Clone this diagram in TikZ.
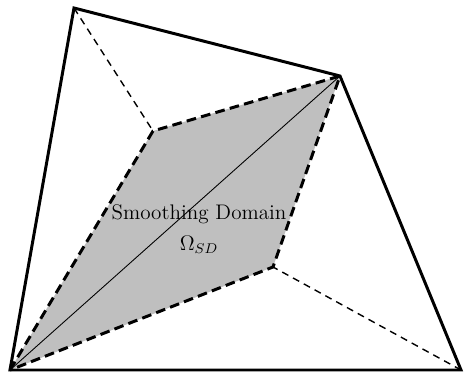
\documentclass[tikz,border=0pt]{standalone}
\usepackage{amsmath}
\usepackage{tikz}
\begin{document}
\begin{tikzpicture}[
          edge/.style={line width=1.7pt, line join=miter},
          sdedge/.style={line width=1.7pt, dash pattern=on 5.5pt off 3pt},
          link/.style={line width=0.8pt, dash pattern=on 4pt off 3pt},
          diag/.style={line width=0.5pt}
        ]
        \useasboundingbox (0,0) rectangle (9.3,7.48);
        \coordinate (a) at (1.48,7.32);
        \coordinate (b) at (6.80,5.96);
        \coordinate (c) at (0.20,0.08);
        \coordinate (d) at (9.22,0.08);
        \coordinate (e) at (3.06,4.86);
        \coordinate (f) at (5.46,2.14);
        \fill[black!25] (c) -- (e) -- (b) -- (f) -- cycle;
        \draw[diag] (c) -- (b);
        \node[font=\large, align=center] (sd) at (3.98,2.9)
        {Smoothing Domain\\[4pt] $\Omega_{SD}$};
        \draw[link] (a) -- (e);
        \draw[link] (d) -- (f);
        \draw[sdedge] (c) -- (e) -- (b) -- (f) -- cycle;
        \draw[edge] (a) -- (b) -- (d) -- (c) -- cycle;
      \end{tikzpicture}
\end{document}
